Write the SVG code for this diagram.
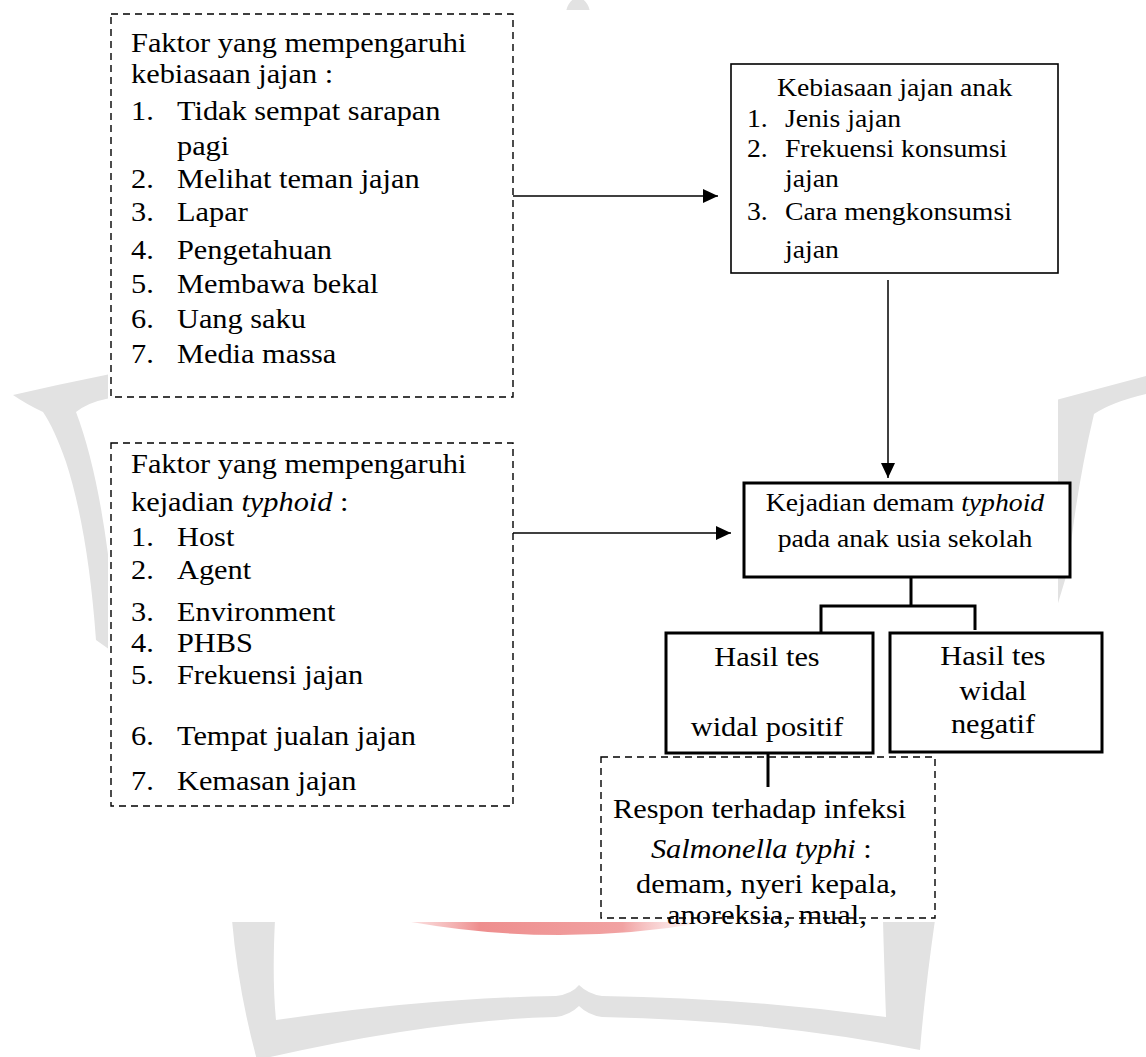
<svg xmlns="http://www.w3.org/2000/svg" width="1146" height="1057" viewBox="0 0 1146 1057">
<style>
.t{font-family:"Liberation Serif","Times New Roman",serif;fill:#000}
.L{font-size:27.6px}
.S{font-size:25.2px}
.m{text-anchor:middle}
.i{font-style:italic}
.dash{fill:none;stroke:#000;stroke-width:1.4;stroke-dasharray:7 5}
.thin{fill:#fff;stroke:#000;stroke-width:1.6}
.thick{fill:#fff;stroke:#000;stroke-width:3}
.wm{fill:#e2e2e2}
.ln{fill:none;stroke:#000;stroke-width:1.5}
.tr{fill:none;stroke:#000;stroke-width:3}
</style>
<defs>
<marker id="arr" markerUnits="userSpaceOnUse" markerWidth="16" markerHeight="16" refX="15" refY="7" orient="auto">
<path d="M0,0 L15,7 L0,14 Z" fill="#000"/>
</marker>
<clipPath id="outside"><path clip-rule="evenodd" d="M0,0H1146V1057H0Z M108,10H1058V922H108Z"/></clipPath>
<linearGradient id="red" x1="0" x2="1" y1="0" y2="0">
<stop offset="0" stop-color="#f4b4b4" stop-opacity="0.3"/>
<stop offset="0.25" stop-color="#ee8e8e"/>
<stop offset="0.7" stop-color="#f1a2a2"/>
<stop offset="1" stop-color="#fbe2e2" stop-opacity="0"/>
</linearGradient>
</defs>
<rect width="1146" height="1057" fill="#fff"/>
<g id="watermark" clip-path="url(#outside)">
<path class="wm" d="M566,12 Q568,0 578,-3 Q588,0 590,12 Z"/>
<path class="wm" d="M13,395 Q60,384 110,374 L110,398 Q88,402 76,412 Q98,470 110,570 L110,650 L96,640 Q88,530 66,462 Q54,428 43,412 Q26,404 13,395 Z"/>
<path class="wm" d="M1056,400 L1146,376 L1146,394 Q1112,402 1094,414 Q1076,490 1068,570 L1056,610 Z"/>
<path class="wm" d="M232,920 L275,920 Q272,980 276,1020 Q430,998 556,996 Q572,994 579,985 Q588,994 602,996 Q745,998 886,1017 Q884,960 883,920 L935,920 Q925,990 920,1050 Q770,1020 602,1017 Q588,1015 579,1006 Q570,1015 556,1017 Q430,1020 257,1060 Q238,990 232,920 Z"/>
<path d="M400,920 L718,920 Q560,950 400,920 Z" fill="url(#red)"/>
</g>
<g id="connectors">
<path class="ln" d="M513,196 H718" marker-end="url(#arr)"/>
<path class="ln" d="M513,533 H731" marker-end="url(#arr)"/>
<path class="ln" d="M888,280 V478" marker-end="url(#arr)"/>
<path class="tr" d="M911,577 V606 M821,606 H975 M821,604.5 V633 M975,604.5 V630"/>
<path class="tr" d="M768,753 V787"/>
</g>
<g id="faktor-jajan">
<rect class="dash" x="111" y="14" width="402" height="383"/>
<g class="t L" transform="translate(131,0) scale(1.1,1)">
<text x="0" y="52">Faktor yang mempengaruhi</text>
<text x="0" y="83">kebiasaan jajan :</text>
<text y="120"><tspan x="0">1.</tspan><tspan x="41.8">Tidak sempat sarapan</tspan></text>
<text x="41.8" y="155">pagi</text>
<text y="188"><tspan x="0">2.</tspan><tspan x="41.8">Melihat teman jajan</tspan></text>
<text y="221"><tspan x="0">3.</tspan><tspan x="41.8">Lapar</tspan></text>
<text y="259"><tspan x="0">4.</tspan><tspan x="41.8">Pengetahuan</tspan></text>
<text y="293"><tspan x="0">5.</tspan><tspan x="41.8">Membawa bekal</tspan></text>
<text y="328"><tspan x="0">6.</tspan><tspan x="41.8">Uang saku</tspan></text>
<text y="363"><tspan x="0">7.</tspan><tspan x="41.8">Media massa</tspan></text>
</g>
</g>
<g id="faktor-typhoid">
<rect class="dash" x="111" y="443" width="402" height="363"/>
<g class="t L" transform="translate(131,0) scale(1.1,1)">
<text x="0" y="473">Faktor yang mempengaruhi</text>
<text x="0" y="511">kejadian <tspan class="i">typhoid</tspan> :</text>
<text y="546"><tspan x="0">1.</tspan><tspan x="41.8">Host</tspan></text>
<text y="579"><tspan x="0">2.</tspan><tspan x="41.8">Agent</tspan></text>
<text y="621"><tspan x="0">3.</tspan><tspan x="41.8">Environment</tspan></text>
<text y="652"><tspan x="0">4.</tspan><tspan x="41.8">PHBS</tspan></text>
<text y="684"><tspan x="0">5.</tspan><tspan x="41.8">Frekuensi jajan</tspan></text>
<text y="745"><tspan x="0">6.</tspan><tspan x="41.8">Tempat jualan jajan</tspan></text>
<text y="790"><tspan x="0">7.</tspan><tspan x="41.8">Kemasan jajan</tspan></text>
</g>
</g>
<g id="kebiasaan-anak">
<rect class="thin" x="731" y="64" width="327" height="209"/>
<g class="t S" transform="translate(747,0) scale(1.1,1)">
<text x="27.3" y="96">Kebiasaan jajan anak</text>
<text y="127"><tspan x="0">1.</tspan><tspan x="34.5">Jenis jajan</tspan></text>
<text y="157"><tspan x="0">2.</tspan><tspan x="34.5">Frekuensi konsumsi</tspan></text>
<text x="34.5" y="187">jajan</text>
<text y="220"><tspan x="0">3.</tspan><tspan x="34.5">Cara mengkonsumsi</tspan></text>
<text x="34.5" y="258">jajan</text>
</g>
</g>
<g id="kejadian-demam">
<rect class="thick" x="744" y="483" width="326" height="94"/>
<g class="t S m" transform="translate(905,0) scale(1.1,1)">
<text x="0" y="511">Kejadian demam <tspan class="i">typhoid</tspan></text>
<text x="0" y="547">pada anak usia sekolah</text>
</g>
</g>
<g id="widal-positif">
<rect class="thick" x="666" y="633" width="207" height="120"/>
<g class="t L m" transform="translate(767,0) scale(1.1,1)">
<text x="0" y="666">Hasil tes</text>
<text x="0" y="736">widal positif</text>
</g>
</g>
<g id="widal-negatif">
<rect class="thick" x="890" y="633" width="212" height="119"/>
<g class="t L m" transform="translate(993,0) scale(1.1,1)">
<text x="0" y="665">Hasil tes</text>
<text x="0" y="700">widal</text>
<text x="0" y="733">negatif</text>
</g>
</g>
<g id="respon">
<rect class="dash" x="601" y="757" width="334" height="161"/>
<g class="t L" transform="translate(613,0) scale(1.1,1)">
<text x="0" y="818">Respon terhadap infeksi</text>
<text x="34.5" y="858"><tspan class="i">Salmonella typhi</tspan> :</text>
<text x="20.9" y="893">demam, nyeri kepala,</text>
<text x="49.1" y="924">anoreksia, mual,</text>
</g>
</g>
</svg>
